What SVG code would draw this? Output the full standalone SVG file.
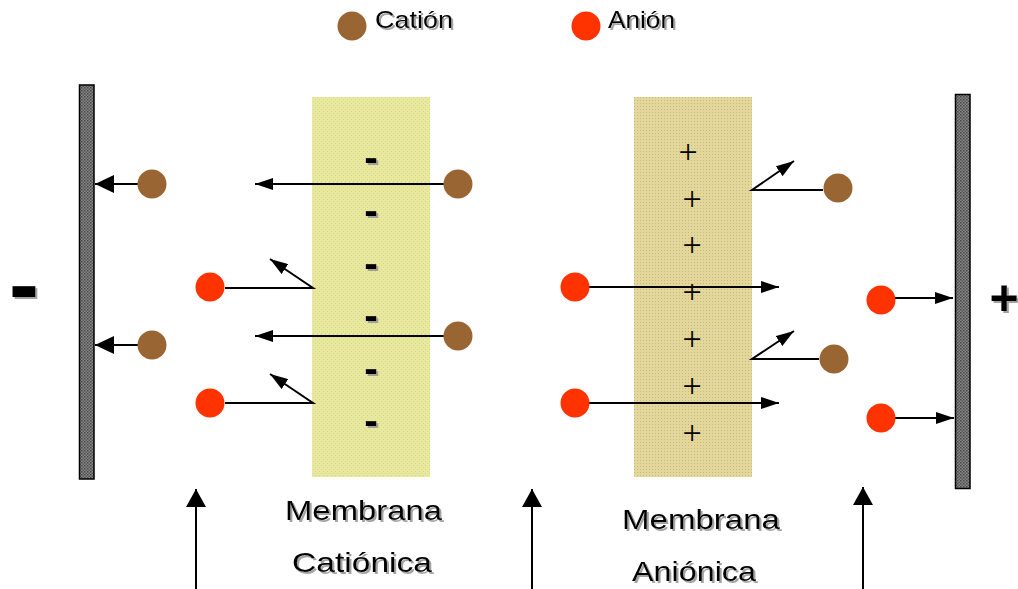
<svg xmlns="http://www.w3.org/2000/svg" width="1018" height="589" viewBox="0 0 1018 589">
<style>
.lbl{font-family:"Liberation Sans",Arial,sans-serif;fill:#000;filter:url(#sh)}
.cat{fill:#996633}
.an{fill:#FF3300}
.ln{stroke:#000;stroke-width:2;fill:none}
.elec{fill:url(#pElec);stroke:#000;stroke-width:1.5}
.minus{font-family:"Liberation Sans",Arial,sans-serif;font-weight:bold;font-size:41px;text-anchor:middle;filter:url(#sh)}
.plus{font-family:"Liberation Serif","Times New Roman",serif;font-size:34px;text-anchor:middle}
</style>
<defs>
<filter id="sh" x="-20%" y="-20%" width="150%" height="150%">
<feDropShadow dx="2" dy="2" stdDeviation="0.6" flood-color="#999" flood-opacity="0.9"/>
</filter>
<pattern id="pElec" width="3" height="3" patternUnits="userSpaceOnUse">
<rect width="3" height="3" fill="#8a8a8a"/>
<rect width="1.5" height="1.5" fill="#444"/>
<rect x="1.5" y="1.5" width="1.5" height="1.5" fill="#555"/>
</pattern>
<pattern id="pCat" width="4" height="4" patternUnits="userSpaceOnUse">
<rect width="4" height="4" fill="#E9E99D"/>
<rect x="1" y="1" width="1" height="1" fill="#D6D48E"/>
<rect x="3" y="3" width="1" height="1" fill="#D6D48E"/>
</pattern>
<pattern id="pAn" width="3" height="3" patternUnits="userSpaceOnUse">
<rect width="3" height="3" fill="#E3D79C"/>
<rect x="1" y="1" width="1" height="1" fill="#C9B97A"/>
</pattern>
<marker id="ahS" markerWidth="18" markerHeight="12" refX="18" refY="6" orient="auto" markerUnits="userSpaceOnUse"><path d="M0,0 L18,6 L0,12 Z" fill="#000"/></marker>
<marker id="ahL" markerWidth="19" markerHeight="18" refX="19" refY="9" orient="auto" markerUnits="userSpaceOnUse"><path d="M0,0 L19,9 L0,18 Z" fill="#000"/></marker>
<marker id="ahU" markerWidth="18" markerHeight="20" refX="18" refY="10" orient="auto" markerUnits="userSpaceOnUse"><path d="M0,0 L18,10 L0,20 Z" fill="#000"/></marker>
</defs>
<rect width="1018" height="589" fill="#fff"/>

<g id="legend">
<circle class="cat" cx="352" cy="26" r="14.5"/>
<text class="lbl" x="375" y="28" font-size="24" textLength="78" lengthAdjust="spacingAndGlyphs">Catión</text>
<circle class="an" cx="586" cy="26" r="14.5"/>
<text class="lbl" x="608" y="28" font-size="24" textLength="67" lengthAdjust="spacingAndGlyphs">Anión</text>
</g>

<g id="electrode-neg">
<rect class="elec" x="79.5" y="85" width="14.5" height="394"/>
<text class="minus" x="24" y="315" style="font-size:90px">-</text>
</g>
<g id="electrode-pos">
<rect class="elec" x="955.5" y="94.5" width="14.5" height="394"/>
<text x="1004" y="315" font-family="Liberation Sans, Arial, sans-serif" font-weight="bold" font-size="50" text-anchor="middle" filter="url(#sh)">+</text>
</g>

<g id="membrane-cationic">
<rect x="312" y="97" width="118" height="380" fill="url(#pCat)"/>
<text class="minus" x="371" y="171">-</text>
<text class="minus" x="371" y="224">-</text>
<text class="minus" x="371" y="277">-</text>
<text class="minus" x="371" y="329">-</text>
<text class="minus" x="371" y="382">-</text>
<text class="minus" x="371" y="434">-</text>
<text class="lbl" x="285" y="520" font-size="28" textLength="157" lengthAdjust="spacingAndGlyphs">Membrana</text>
<text class="lbl" x="292" y="572" font-size="28" textLength="140" lengthAdjust="spacingAndGlyphs">Catiónica</text>
</g>

<g id="membrane-anionic">
<rect x="634" y="97" width="118" height="380" fill="url(#pAn)"/>
<text class="plus" x="688" y="163">+</text>
<text class="plus" x="692" y="210">+</text>
<text class="plus" x="692" y="256">+</text>
<text class="plus" x="692" y="303">+</text>
<text class="plus" x="692" y="350">+</text>
<text class="plus" x="692" y="397">+</text>
<text class="plus" x="692" y="444">+</text>
<text class="lbl" x="622" y="529" font-size="28" textLength="158" lengthAdjust="spacingAndGlyphs">Membrana</text>
<text class="lbl" x="632" y="581" font-size="28" textLength="124" lengthAdjust="spacingAndGlyphs">Aniónica</text>
</g>

<g id="connectors">
<line class="ln" x1="138" y1="184" x2="95" y2="184" marker-end="url(#ahL)"/>
<line class="ln" x1="138" y1="345" x2="95" y2="345" marker-end="url(#ahL)"/>
<line class="ln" x1="444" y1="184" x2="255" y2="184" marker-end="url(#ahS)"/>
<line class="ln" x1="444" y1="336" x2="255" y2="336" marker-end="url(#ahS)"/>
<polyline class="ln" points="225,288 313,288 270,259" marker-end="url(#ahS)"/>
<polyline class="ln" points="225,403 313,403 270,374" marker-end="url(#ahS)"/>
<line class="ln" x1="589" y1="287" x2="779" y2="287" marker-end="url(#ahS)"/>
<line class="ln" x1="589" y1="403" x2="779" y2="403" marker-end="url(#ahS)"/>
<polyline class="ln" points="823,190 752,190 794,161" marker-end="url(#ahS)"/>
<polyline class="ln" points="819,359 752,359 794,331" marker-end="url(#ahS)"/>
<line class="ln" x1="895" y1="298" x2="953" y2="298" marker-end="url(#ahS)"/>
<line class="ln" x1="895" y1="418" x2="954" y2="418" marker-end="url(#ahS)"/>
<line class="ln" x1="196" y1="589" x2="196" y2="489" marker-end="url(#ahU)"/>
<line class="ln" x1="532" y1="589" x2="532" y2="489" marker-end="url(#ahU)"/>
<line class="ln" x1="863" y1="589" x2="863" y2="487" marker-end="url(#ahU)"/>
</g>

<g id="ions">
<circle class="cat" cx="152" cy="184" r="14.5"/>
<circle class="cat" cx="152" cy="345" r="14.5"/>
<circle class="cat" cx="458" cy="184" r="14.5"/>
<circle class="cat" cx="458" cy="336" r="14.5"/>
<circle class="an" cx="210" cy="287" r="14.5"/>
<circle class="an" cx="210" cy="403" r="14.5"/>
<circle class="an" cx="575" cy="287" r="14.5"/>
<circle class="an" cx="575" cy="403" r="14.5"/>
<circle class="cat" cx="838" cy="188" r="14.5"/>
<circle class="cat" cx="834" cy="359" r="14.5"/>
<circle class="an" cx="881" cy="300" r="14.5"/>
<circle class="an" cx="881" cy="418" r="14.5"/>
</g>
</svg>
